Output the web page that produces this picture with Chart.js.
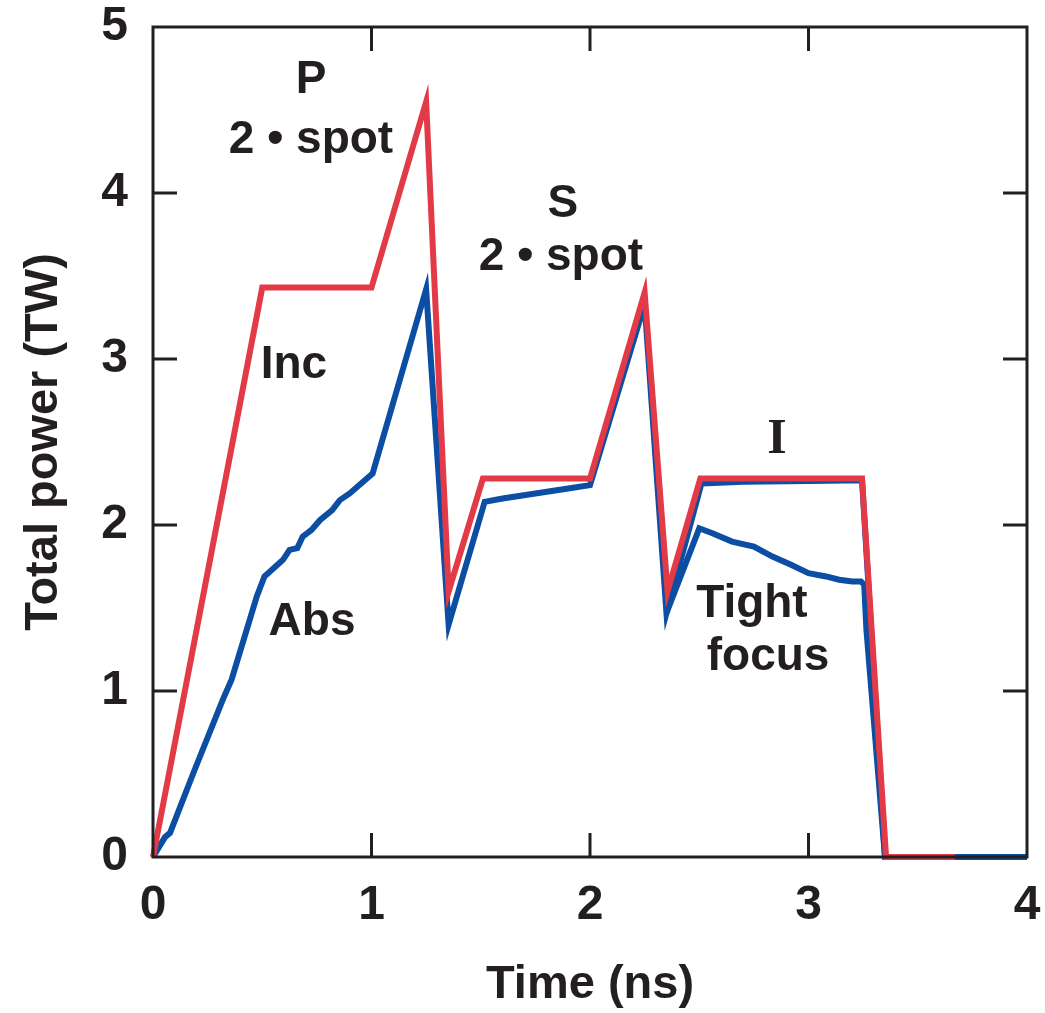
<!DOCTYPE html>
<html>
<head>
<meta charset="utf-8">
<script src="https://cdn.jsdelivr.net/npm/chart.js@4/dist/chart.umd.min.js"></script>
<style>
  html, body { margin: 0; padding: 0; background: #ffffff; }
  #wrap { width: 1045px; height: 1013px; position: relative; }
</style>
</head>
<body>
<div id="wrap"><canvas id="c" width="1045" height="1013"></canvas></div>
<script>
// ---- Data ----
const incX = [0, 0.50, 1.00, 1.25, 1.353, 1.51, 2.00, 2.25, 2.355, 2.505, 3.245, 3.355, 3.67];
const incY = [0, 3.43, 3.43, 4.55, 1.60, 2.28, 2.28, 3.40, 1.60, 2.28, 2.28, 0, 0];

const absX = [0, 0.055, 0.078, 0.183, 0.32, 0.36, 0.475, 0.51, 0.595, 0.625, 0.66, 0.685, 0.725, 0.765, 0.82, 0.855, 0.90, 1.005, 1.25, 1.353, 1.518, 1.6, 1.75, 1.9, 2.00, 2.25, 2.35, 2.51, 2.7, 3.0, 3.245, 3.35, 4.0];
const absY = [0, 0.12, 0.145, 0.50, 0.95, 1.07, 1.57, 1.69, 1.79, 1.85, 1.86, 1.93, 1.97, 2.03, 2.09, 2.15, 2.19, 2.31, 3.42, 1.40, 2.14, 2.16, 2.19, 2.22, 2.24, 3.33, 1.47, 2.25, 2.26, 2.265, 2.27, 0, 0];

const tightX = [2.35, 2.50, 2.56, 2.65, 2.75, 2.835, 2.92, 3.00, 3.08, 3.14, 3.20, 3.24, 3.255, 3.265, 3.35];
const tightY = [1.47, 1.98, 1.95, 1.90, 1.87, 1.81, 1.76, 1.71, 1.69, 1.67, 1.66, 1.66, 1.64, 1.37, 0];

const xTicks = [0, 1, 2, 3, 4];
const yTicks = [0, 1, 2, 3, 4, 5];

const labels = [
  { text: "P", x: 0.723, y: 4.68, serif: false },
  { text: "2 \u2022 spot", x: 0.723, y: 4.32, serif: false },
  { text: "Inc", x: 0.645, y: 2.96, serif: false },
  { text: "Abs", x: 0.728, y: 1.415, serif: false },
  { text: "S", x: 1.876, y: 3.93, serif: false },
  { text: "2 \u2022 spot", x: 1.867, y: 3.61, serif: false },
  { text: "I", x: 2.856, y: 2.51, serif: true },
  { text: "Tight", x: 2.741, y: 1.52, serif: false },
  { text: "focus", x: 2.815, y: 1.20, serif: false }
];

const toPts = (xs, ys) => xs.map((x, i) => ({ x: x, y: ys[i] }));

const RED = "#E23A46";
const BLUE = "#0B4EA3";
const INK = "#231F20";
const FONT = "'Liberation Sans', Arial, Helvetica, sans-serif";

const framePlugin = {
  id: "frame",
  afterDatasetsDraw(chart) {
    const { ctx, chartArea: a, scales: { x, y } } = chart;
    ctx.save();
    ctx.strokeStyle = INK;
    ctx.lineWidth = 3;
    ctx.lineCap = "butt";
    const tl = 24;
    ctx.beginPath();
    xTicks.forEach(v => {
      if (v === xTicks[0] || v === xTicks[xTicks.length - 1]) return;
      const px = x.getPixelForValue(v);
      ctx.moveTo(px, a.bottom); ctx.lineTo(px, a.bottom - tl);
      ctx.moveTo(px, a.top); ctx.lineTo(px, a.top + tl);
    });
    yTicks.forEach(v => {
      if (v === yTicks[0] || v === yTicks[yTicks.length - 1]) return;
      const py = y.getPixelForValue(v);
      ctx.moveTo(a.left, py); ctx.lineTo(a.left + tl, py);
      ctx.moveTo(a.right, py); ctx.lineTo(a.right - tl, py);
    });
    ctx.stroke();
    ctx.strokeRect(a.left, a.top, a.right - a.left, a.bottom - a.top);
    ctx.restore();
  },
  afterDraw(chart) {
    const { ctx, scales: { x, y } } = chart;
    ctx.save();
    ctx.fillStyle = INK;
    ctx.textAlign = "center";
    ctx.textBaseline = "middle";
    labels.forEach(l => {
      ctx.font = l.serif ? "bold 50px 'Liberation Serif', 'Times New Roman', serif" : "bold 46px " + FONT;
      ctx.fillText(l.text, x.getPixelForValue(l.x), y.getPixelForValue(l.y));
    });
    ctx.restore();
  }
};

const zeroPad = s => { s.paddingTop = 0; s.paddingBottom = 0; s.paddingLeft = 0; s.paddingRight = 0; };

new Chart(document.getElementById("c"), {
  type: "line",
  data: {
    datasets: [
      { label: "Inc", data: toPts(incX, incY), borderColor: RED, borderWidth: 6, pointRadius: 0, tension: 0, clip: false, fill: false },
      { label: "Abs", data: toPts(absX, absY), borderColor: BLUE, borderWidth: 6, pointRadius: 0, tension: 0, clip: false, fill: false },
      { label: "Tight focus", data: toPts(tightX, tightY), borderColor: BLUE, borderWidth: 6, pointRadius: 0, tension: 0, clip: false, fill: false }
    ]
  },
  options: {
    responsive: false,
    animation: false,
    devicePixelRatio: 1,
    layout: { padding: { top: 27, right: 18, left: 0, bottom: 0 } },
    plugins: { legend: { display: false }, tooltip: { enabled: false } },
    scales: {
      x: {
        type: "linear", min: 0, max: 4,
        afterBuildTicks: s => { s.ticks = xTicks.map(v => ({ value: v })); },
        afterFit: s => { s.height = 156; zeroPad(s); },
        grid: { display: false, drawTicks: false },
        border: { display: false },
        ticks: { color: INK, padding: 20, font: { family: FONT, size: 48, weight: "bold" }, maxRotation: 0 },
        title: { display: true, text: "Time (ns)", color: INK, padding: { top: 0, bottom: 0 }, font: { family: FONT, size: 47, weight: "bold" } }
      },
      y: {
        type: "linear", min: 0, max: 5,
        afterBuildTicks: s => { s.ticks = yTicks.map(v => ({ value: v })); },
        afterFit: s => { s.width = 153; zeroPad(s); },
        grid: { display: false, drawTicks: false },
        border: { display: false },
        ticks: { color: INK, padding: 25, font: { family: FONT, size: 48, weight: "bold" } },
        title: { display: true, text: "Total power (TW)", color: INK, padding: { top: 16, bottom: 0 }, font: { family: FONT, size: 47, weight: "bold" } }
      }
    }
  },
  plugins: [framePlugin]
});
</script>
</body>
</html>
